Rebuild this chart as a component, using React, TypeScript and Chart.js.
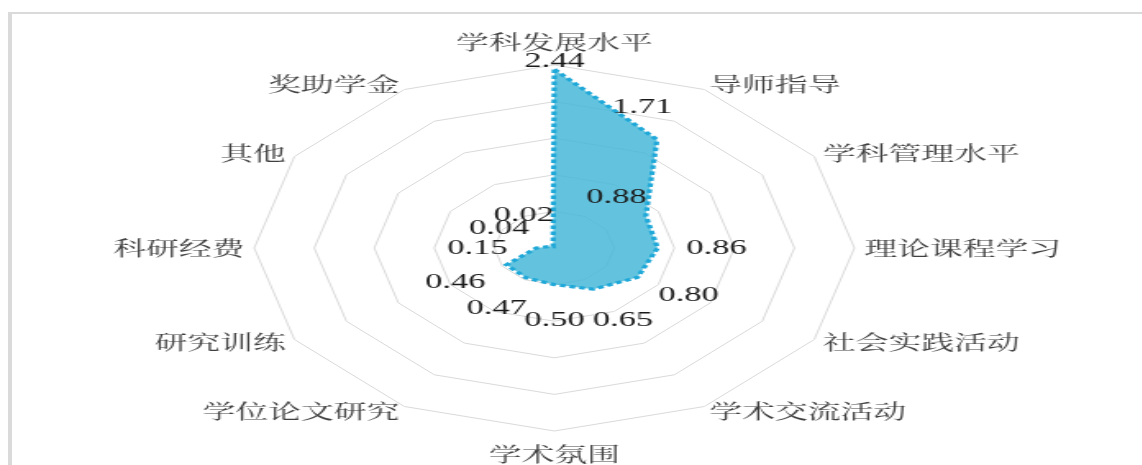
import React, { useEffect, useRef } from 'react';
import { Chart, registerables } from 'chart.js';

Chart.register(...registerables);

// ---- data ----
const categories: string[] = [
  '学科发展水平',
  '导师指导',
  '学科管理水平',
  '理论课程学习',
  '社会实践活动',
  '学术交流活动',
  '学术氛围',
  '学位论文研究',
  '研究训练',
  '科研经费',
  '其他',
  '奖助学金',
];
const values: number[] = [2.44, 1.71, 0.88, 0.86, 0.8, 0.65, 0.5, 0.47, 0.46, 0.15, 0.04, 0.02];
const scaleMax = 2.5;
const scaleStep = 0.5;

// ---- styling / layout ----
const STRETCH = 1.64;
const CANVAS_W = 676;
const CANVAS_H = 465;
const LABEL_PAD = 6;
const LABEL_BOX = 34;
const VALUE_OFFSET = 36;
// per-index adjustments (px relative to point) for value labels that are not placed radially
const valueLabelOverrides: Record<number, [number, number]> = {
  0: [0, -8],
  1: [-9, -32],
  2: [-18, -18],
};

const labelPlugin = {
  id: 'customLabels',
  afterDatasetsDraw(chart: any) {
    const ctx = chart.ctx;
    const scale = chart.scales.r;
    const meta = chart.getDatasetMeta(0);
    ctx.save();
    // value labels
    ctx.font = '21px "Liberation Serif", "Times New Roman", "DejaVu Serif", serif';
    ctx.fillStyle = '#1a1a1a';
    ctx.textAlign = 'center';
    ctx.textBaseline = 'middle';
    meta.data.forEach((pt: any, i: number) => {
      const a = scale.getIndexAngle(i) - Math.PI / 2;
      const ov = valueLabelOverrides[i];
      const dx = ov ? ov[0] : Math.cos(a) * VALUE_OFFSET;
      const dy = ov ? ov[1] : Math.sin(a) * VALUE_OFFSET;
      ctx.fillText(values[i].toFixed(2), pt.x + dx, pt.y + dy);
    });
    // category labels
    ctx.font = '20px "Noto Serif CJK SC", "Noto Sans CJK SC", sans-serif';
    ctx.fillStyle = '#404040';
    categories.forEach((label, i) => {
      const pos = scale.getPointPosition(i, scale.drawingArea + LABEL_PAD);
      const deg = Math.round((scale.getIndexAngle(i) * 180) / Math.PI) % 360;
      let y = pos.y;
      if (deg === 0) {
        ctx.textAlign = 'center';
        y = pos.y - LABEL_BOX / 2;
      } else if (deg === 180) {
        ctx.textAlign = 'center';
        y = pos.y + LABEL_BOX / 2;
      } else if (deg < 180) {
        ctx.textAlign = 'left';
      } else {
        ctx.textAlign = 'right';
      }
      ctx.textBaseline = 'middle';
      ctx.fillText(label, pos.x, y);
    });
    ctx.restore();
  },
};

export default function App() {
  const canvasRef = useRef<HTMLCanvasElement | null>(null);

  useEffect(() => {
    if (!canvasRef.current) return;
    const chart = new Chart(canvasRef.current, {
      type: 'radar',
      data: {
        labels: categories,
        datasets: [
          {
            data: values,
            fill: true,
            backgroundColor: 'rgba(72,184,216,0.85)',
            borderColor: '#1fa8d8',
            borderWidth: 3.2,
            borderDash: [3.5, 2.5],
            pointRadius: 0,
            pointHoverRadius: 0,
            tension: 0,
          },
        ],
      },
      options: {
        animation: false,
        responsive: true,
        maintainAspectRatio: false,
        layout: { padding: { top: 65, bottom: 34, left: 0, right: 0 } },
        plugins: {
          legend: { display: false },
          tooltip: { enabled: false },
        },
        scales: {
          r: {
            min: 0,
            max: scaleMax,
            ticks: { stepSize: scaleStep, display: false },
            grid: { color: '#d9d9d9', lineWidth: 1 },
            angleLines: { display: false },
            pointLabels: { display: false },
          },
        },
      },
      plugins: [labelPlugin],
    });
    return () => chart.destroy();
  }, []);

  return (
    <div
      style={{
        position: 'fixed',
        left: 0,
        top: 0,
        width: 1142,
        height: 465,
        overflow: 'hidden',
        background: '#ffffff',
      }}
    >
      <div
        style={{
          position: 'absolute',
          left: 8,
          top: 12,
          width: 1300,
          height: 700,
          borderLeft: '4px solid #dadada',
          borderTop: '2px solid #dadada',
        }}
      />
      <div
        style={{
          position: 'absolute',
          left: 0,
          top: 0,
          width: CANVAS_W,
          height: CANVAS_H,
          transform: `scaleX(${STRETCH})`,
          transformOrigin: '0 0',
        }}
      >
        <canvas ref={canvasRef} style={{ display: 'block' }} />
      </div>
    </div>
  );
}
